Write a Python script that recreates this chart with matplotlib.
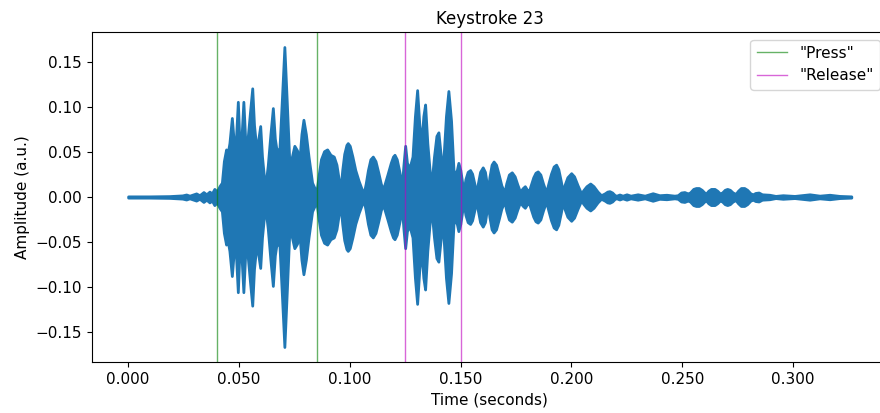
import matplotlib
matplotlib.use("Agg")
import matplotlib.pyplot as plt
import numpy as np

# keystroke recording: envelope of the waveform (time in s, peak amplitude)
time_s = [
    0.0000, 0.0096, 0.0186, 0.0245, 0.0262, 0.0277, 0.0307, 0.0322, 0.0340, 0.0353,
    0.0367, 0.0378, 0.0389, 0.0401, 0.0412, 0.0423, 0.0432, 0.0442, 0.0450, 0.0457,
    0.0468, 0.0477, 0.0486, 0.0495, 0.0502, 0.0511, 0.0520, 0.0529, 0.0538, 0.0550,
    0.0560, 0.0568, 0.0577, 0.0586, 0.0596, 0.0604, 0.0613, 0.0621, 0.0630, 0.0642,
    0.0653, 0.0662, 0.0671, 0.0683, 0.0694, 0.0705, 0.0716, 0.0728, 0.0739, 0.0750,
    0.0762, 0.0773, 0.0782, 0.0791, 0.0802, 0.0814, 0.0830, 0.0841, 0.0851, 0.0860,
    0.0870, 0.0884, 0.0898, 0.0913, 0.0928, 0.0940, 0.0950, 0.0958, 0.0966, 0.0975,
    0.0985, 0.0991, 0.1000, 0.1012, 0.1025, 0.1040, 0.1052, 0.1063, 0.1072, 0.1082,
    0.1093, 0.1104, 0.1116, 0.1128, 0.1140, 0.1149, 0.1158, 0.1170, 0.1185, 0.1195,
    0.1202, 0.1212, 0.1224, 0.1235, 0.1242, 0.1250, 0.1258, 0.1269, 0.1283, 0.1294,
    0.1304, 0.1314, 0.1323, 0.1332, 0.1340, 0.1350, 0.1367, 0.1380, 0.1391, 0.1400,
    0.1411, 0.1422, 0.1434, 0.1445, 0.1457, 0.1468, 0.1479, 0.1490, 0.1499, 0.1513,
    0.1522, 0.1532, 0.1543, 0.1552, 0.1562, 0.1570, 0.1578, 0.1588, 0.1600, 0.1610,
    0.1618, 0.1623, 0.1630, 0.1640, 0.1649, 0.1660, 0.1672, 0.1684, 0.1698, 0.1706,
    0.1718, 0.1731, 0.1744, 0.1756, 0.1768, 0.1781, 0.1790, 0.1800, 0.1808, 0.1815,
    0.1828, 0.1838, 0.1848, 0.1860, 0.1872, 0.1886, 0.1896, 0.1908, 0.1920, 0.1931,
    0.1941, 0.1952, 0.1961, 0.1970, 0.1982, 0.1999, 0.2012, 0.2028, 0.2044, 0.2055,
    0.2068, 0.2085, 0.2100, 0.2118, 0.2134, 0.2150, 0.2162, 0.2172, 0.2184, 0.2196,
    0.2204, 0.2217, 0.2231, 0.2249, 0.2267, 0.2299, 0.2331, 0.2367, 0.2397, 0.2429,
    0.2465, 0.2480, 0.2495, 0.2510, 0.2525, 0.2535, 0.2550, 0.2562, 0.2575, 0.2588,
    0.2600, 0.2608, 0.2618, 0.2630, 0.2646, 0.2658, 0.2670, 0.2680, 0.2692, 0.2703,
    0.2715, 0.2728, 0.2741, 0.2752, 0.2765, 0.2780, 0.2793, 0.2808, 0.2819, 0.2830,
    0.2845, 0.2860, 0.2894, 0.2921, 0.2954, 0.3007, 0.3075, 0.3120, 0.3165, 0.3210,
    0.3263,
]
envelope = [
    0.0007, 0.0007, 0.0010, 0.0018, 0.0028, 0.0015, 0.0040, 0.0020, 0.0055, 0.0030,
    0.0060, 0.0040, 0.0090, 0.0060, 0.0120, 0.0160, 0.0400, 0.0530, 0.0500, 0.0600,
    0.0880, 0.0600, 0.0620, 0.1060, 0.0620, 0.0640, 0.1060, 0.0600, 0.0620, 0.0950,
    0.1210, 0.0800, 0.0580, 0.0620, 0.0790, 0.0450, 0.0220, 0.0160, 0.0350, 0.0700,
    0.0990, 0.0650, 0.0500, 0.0550, 0.1100, 0.1670, 0.1050, 0.0350, 0.0450, 0.0570,
    0.0520, 0.0420, 0.0700, 0.0860, 0.0700, 0.0450, 0.0160, 0.0100, 0.0080, 0.0250,
    0.0420, 0.0510, 0.0530, 0.0470, 0.0450, 0.0360, 0.0200, 0.0080, 0.0300, 0.0480,
    0.0580, 0.0600, 0.0570, 0.0450, 0.0300, 0.0180, 0.0100, 0.0040, 0.0150, 0.0300,
    0.0420, 0.0450, 0.0400, 0.0280, 0.0150, 0.0080, 0.0150, 0.0250, 0.0380, 0.0450,
    0.0470, 0.0420, 0.0280, 0.0120, 0.0350, 0.0570, 0.0380, 0.0320, 0.0450, 0.0900,
    0.1190, 0.0800, 0.0600, 0.0900, 0.1030, 0.0600, 0.0100, 0.0450, 0.0680, 0.0720,
    0.0450, 0.0400, 0.0900, 0.1180, 0.0850, 0.0300, 0.0250, 0.0380, 0.0300, 0.0060,
    0.0200, 0.0280, 0.0300, 0.0260, 0.0150, 0.0040, 0.0150, 0.0280, 0.0330, 0.0280,
    0.0150, 0.0060, 0.0220, 0.0360, 0.0395, 0.0360, 0.0250, 0.0130, 0.0050, 0.0150,
    0.0250, 0.0275, 0.0230, 0.0140, 0.0060, 0.0100, 0.0120, 0.0080, 0.0060, 0.0120,
    0.0220, 0.0270, 0.0285, 0.0250, 0.0150, 0.0050, 0.0150, 0.0260, 0.0340, 0.0360,
    0.0310, 0.0180, 0.0060, 0.0140, 0.0220, 0.0265, 0.0230, 0.0130, 0.0040, 0.0080,
    0.0120, 0.0150, 0.0120, 0.0060, 0.0020, 0.0040, 0.0060, 0.0065, 0.0050, 0.0020,
    0.0015, 0.0028, 0.0015, 0.0030, 0.0015, 0.0030, 0.0015, 0.0042, 0.0020, 0.0025,
    0.0015, 0.0020, 0.0050, 0.0055, 0.0040, 0.0050, 0.0090, 0.0100, 0.0100, 0.0080,
    0.0050, 0.0040, 0.0070, 0.0090, 0.0090, 0.0070, 0.0040, 0.0050, 0.0080, 0.0090,
    0.0080, 0.0050, 0.0035, 0.0070, 0.0100, 0.0100, 0.0080, 0.0040, 0.0030, 0.0045,
    0.0050, 0.0030, 0.0025, 0.0012, 0.0020, 0.0012, 0.0030, 0.0015, 0.0025, 0.0012,
    0.0007,
]

press_times = [0.040, 0.085]
release_times = [0.125, 0.150]

t = np.array(time_s)
env = np.array(envelope)

fig = plt.figure(figsize=(8.8, 4.13), dpi=100)
ax = fig.add_axes([0.1045, 0.1235, 0.904, 0.799])

ax.fill_between(t, -env, env, color="#1f77b4", edgecolor="#1f77b4",
                linewidth=2.0, joinstyle="round")

for i, x in enumerate(press_times):
    ax.axvline(x, color="green", alpha=0.6, linewidth=1,
               label='"Press"' if i == 0 else None)
for i, x in enumerate(release_times):
    ax.axvline(x, color="m", alpha=0.6, linewidth=1,
               label='"Release"' if i == 0 else None)

ax.set_xticks([0.0, 0.05, 0.1, 0.15, 0.2, 0.25, 0.3])
ax.set_xticklabels(["0.000", "0.050", "0.100", "0.150", "0.200", "0.250", "0.300"])
ax.set_yticks([-0.15, -0.10, -0.05, 0.0, 0.05, 0.10, 0.15])
ax.set_yticklabels(["\u22120.15", "\u22120.10", "\u22120.05", "0.00", "0.05", "0.10", "0.15"])
ax.tick_params(labelsize=11)

ax.set_title("Keystroke 23", fontsize=12)
ax.set_xlabel("Time (seconds)", fontsize=11)
ax.set_ylabel("Amplitude (a.u.)", fontsize=11)
ax.legend(loc="upper right", fontsize=11)

fig.savefig("out.png", dpi=100)
